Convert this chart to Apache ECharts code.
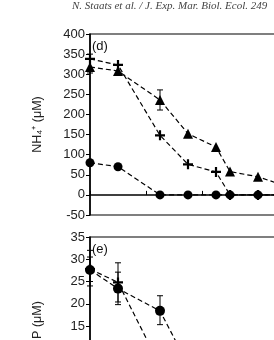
<!DOCTYPE html>
<html>
<head>
<meta charset="utf-8">
<style>
  html, body { margin: 0; padding: 0; background: #fff; }
  #chart { width: 274px; height: 340px; }
</style>
</head>
<body>
<div id="chart"></div>
<script src="https://cdn.jsdelivr.net/npm/echarts@6/dist/echarts.min.js"></script>
<script>
// sampling times (axis units, ticks every 2)
var times = [0, 1, 2.5, 3.5, 4.5, 5, 6, 7];

// panel (d) NH4+ (uM)
var nh4Circle = [80, 70, 0, 0, 0, 0, 0, 0];
var nh4Triangle = [318, 308, 236, 152, 119, 58, 45, 22];
var nh4Plus = [338, 323, 148, 76, 57, 0, 0, 0];
// error bars: [time, low, high]
var nh4Err = [[0, 303, 350], [2.5, 211, 261]];

// panel (e) P (uM)
var pCircle = [27.6, 23.4, 18.4, 6.3];
var pPlus = [27.8, 24.8, 6.1];
var pErr = [[0, 24.0, 32.0], [0, 25.0, 30.5], [1, 19.8, 29.2], [1, 20.4, 27.1], [2.5, 15.3, 21.8]];

var yTicksD = { min: -50, max: 400, interval: 50 };
var yTicksE = { min: -5, max: 35, interval: 5 };

function pairs(vals) {
  return vals.map(function (v, i) { return [times[i], v]; });
}

var plusPath = 'path://M-1.1,-5H1.1V-1.1H5V1.1H1.1V5H-1.1V1.1H-5V-1.1H-1.1Z';
var lineStyle = { color: '#000', width: 1.2, type: [5, 3] };
var font = 'Liberation Sans';

function errRender(params, api) {
  var x = api.value(0);
  var lo = api.coord([x, api.value(1)]);
  var hi = api.coord([x, api.value(2)]);
  var w = 3;
  var st = { stroke: '#000', lineWidth: 1 };
  return {
    type: 'group',
    children: [
      { type: 'line', shape: { x1: lo[0], y1: lo[1], x2: hi[0], y2: hi[1] }, style: st },
      { type: 'line', shape: { x1: lo[0] - w, y1: lo[1], x2: lo[0] + w, y2: lo[1] }, style: st },
      { type: 'line', shape: { x1: hi[0] - w, y1: hi[1], x2: hi[0] + w, y2: hi[1] }, style: st }
    ]
  };
}

function xAx(idx) {
  return {
    type: 'value', gridIndex: idx, min: 0, max: 10, interval: 2,
    axisLine: { lineStyle: { color: '#000', width: 1.5 } },
    axisTick: { inside: true, length: 4, lineStyle: { color: '#000', width: 1 } },
    axisLabel: { show: false },
    splitLine: { show: false }
  };
}

function yAx(idx, t, name, pad) {
  return {
    type: 'value', gridIndex: idx, min: t.min, max: t.max, interval: t.interval,
    name: name, nameLocation: 'middle', nameGap: 46,
    nameTextStyle: { fontFamily: font, fontSize: 12.5, color: '#222', padding: pad },
    axisLine: { lineStyle: { color: '#000', width: 1.5 } },
    axisTick: { length: 4, lineStyle: { color: '#000', width: 1 } },
    axisLabel: { fontFamily: font, fontSize: 13, color: '#222', margin: 5 },
    splitLine: { show: false }
  };
}

var chart = echarts.init(document.getElementById('chart'));
chart.setOption({
  animation: false,
  backgroundColor: '#fff',
  grid: [
    { left: 90, top: 34, width: 280, height: 181, show: true, borderColor: '#000', borderWidth: 1.2,
      containLabel: false, outerBoundsMode: 'none' },
    { left: 90, top: 237, width: 280, height: 178, show: true, borderColor: '#000', borderWidth: 1.2,
      containLabel: false, outerBoundsMode: 'none' }
  ],
  xAxis: [xAx(0), xAx(1)],
  yAxis: [yAx(0, yTicksD, 'NH₄⁺ (μM)', 0), yAx(1, yTicksE, 'P (μM)', [0, 0, 0, 12])],
  graphic: [
    { type: 'text', left: 72, top: 1, style: { text: 'N. Staats et al. / J. Exp. Mar. Biol. Ecol. 249', fontFamily: 'Liberation Serif', fontStyle: 'italic', fontSize: 11, fill: '#444' } },
    { type: 'text', left: 92, top: 40, style: { text: '(d)', fontFamily: font, fontSize: 13, fill: '#111' } },
    { type: 'text', left: 92, top: 243, style: { text: '(e)', fontFamily: font, fontSize: 13, fill: '#111' } }
  ],
  series: [
    { type: 'line', xAxisIndex: 0, yAxisIndex: 0, data: pairs(nh4Circle), symbol: 'circle', symbolSize: 9,
      itemStyle: { color: '#000' }, lineStyle: lineStyle },
    { type: 'line', xAxisIndex: 0, yAxisIndex: 0, data: pairs(nh4Triangle), symbol: 'triangle', symbolSize: 10,
      itemStyle: { color: '#000' }, lineStyle: lineStyle },
    { type: 'line', xAxisIndex: 0, yAxisIndex: 0, data: pairs(nh4Plus), symbol: plusPath, symbolSize: 10,
      itemStyle: { color: '#000' }, lineStyle: lineStyle },
    { type: 'custom', xAxisIndex: 0, yAxisIndex: 0, data: nh4Err, renderItem: errRender,
      encode: { x: 0, y: [1, 2] }, z: 1 },
    { type: 'line', xAxisIndex: 1, yAxisIndex: 1, data: pairs(pPlus), symbol: plusPath, symbolSize: 10,
      itemStyle: { color: '#000' }, lineStyle: lineStyle },
    { type: 'line', xAxisIndex: 1, yAxisIndex: 1, data: pairs(pCircle), symbol: 'circle', symbolSize: 10,
      itemStyle: { color: '#000' }, lineStyle: lineStyle },
    { type: 'custom', xAxisIndex: 1, yAxisIndex: 1, data: pErr, renderItem: errRender,
      encode: { x: 0, y: [1, 2] }, z: 1 }
  ]
});
</script>
</body>
</html>
